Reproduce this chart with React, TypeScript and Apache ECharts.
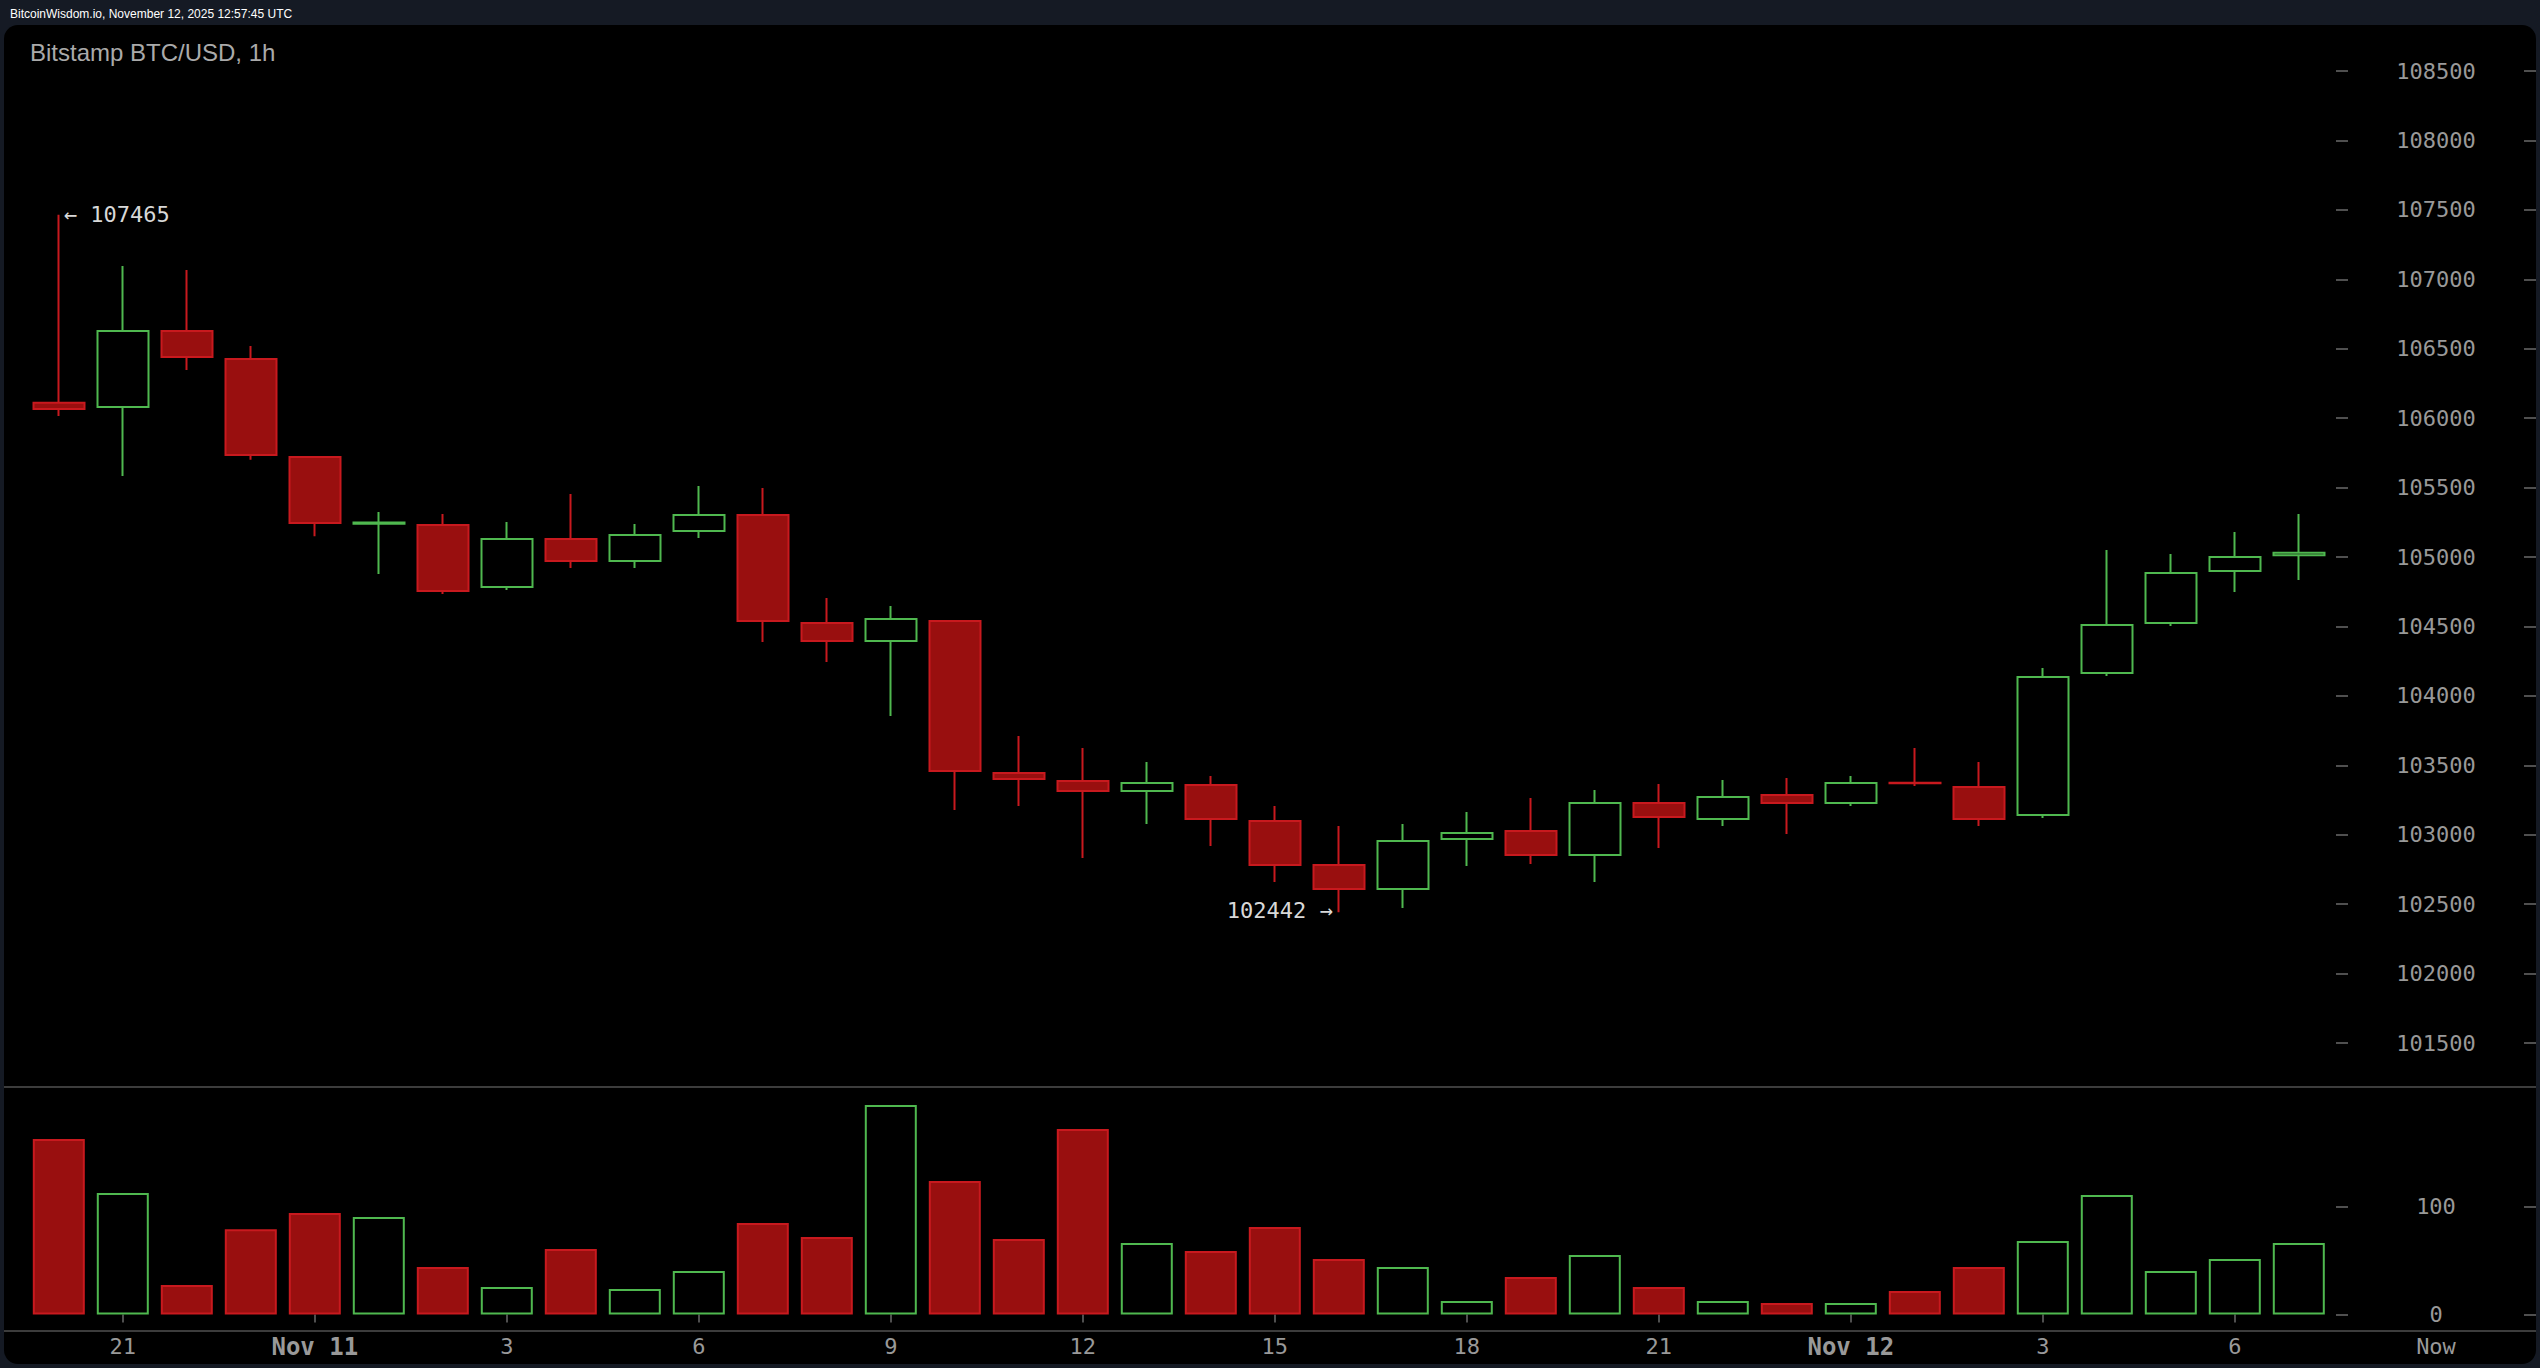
import { useEffect, useRef } from 'react'
import * as echarts from 'echarts'

const timeLabels = ['', '21', '', '', 'Nov 11', '', '', '3', '', '', '6', '', '', '9', '', '', '12', '', '', '15', '', '', '18', '', '', '21', '', '', 'Nov 12', '', '', '3', '', '', '6', '']

const opens = [106110, 106080, 106628, 106426, 105720, 105240, 105230, 104784, 105130, 104971, 105187, 105302, 104525, 104395, 104539, 103445, 103387, 103315, 103358, 103099, 102782, 102609, 102969, 103027, 102854, 103228, 103113, 103286, 103228, 103375, 103343, 103142, 104165, 104525, 104899, 105012]
const closes = [106065, 106628, 106440, 105735, 105245, 105248, 104755, 105130, 104971, 105158, 105302, 104539, 104395, 104554, 103459, 103401, 103315, 103372, 103113, 102782, 102609, 102955, 103012, 102854, 103228, 103127, 103272, 103228, 103372, 103370, 103113, 104136, 104510, 104885, 105000, 105030]
const lows = [106015, 105583, 106347, 105700, 105150, 104878, 104733, 104762, 104921, 104921, 105137, 104388, 104244, 103855, 103178, 103207, 102832, 103077, 102919, 102660, 102442, 102472, 102775, 102789, 102660, 102905, 103063, 103005, 103207, 103351, 103063, 103120, 104143, 104503, 104748, 104834]
const highs = [107465, 107096, 107067, 106520, 105720, 105324, 105310, 105252, 105454, 105238, 105511, 105497, 104705, 104647, 104539, 103711, 103625, 103524, 103423, 103207, 103063, 103077, 103163, 103264, 103322, 103365, 103394, 103408, 103423, 103625, 103524, 104201, 105050, 105022, 105180, 105310]
const volumes = [162.5, 112.5, 27.3, 79, 94, 90.3, 44, 25.5, 60.6, 23.6, 40.3, 84.7, 71.8, 194, 123.6, 69.9, 171.8, 66.2, 58.8, 81, 51.4, 44, 12.5, 34.7, 55.1, 25.5, 12.5, 10.6, 10.6, 21.8, 44, 68, 110.6, 40.3, 51.4, 66.2]
const volumeTicks = [0, 100]

const highIndex = 0
const lowIndex = 20

const GREEN = '#4fb84f'
const RED = '#c8191e'
const RED_FILL = '#990f0f'
const MONO = '"DejaVu Sans Mono", monospace'
const SANS = '"Liberation Sans", Arial, sans-serif'
const AXIS_TEXT = '#999999'
const TICK = '#4f4f4f'

const candleData = opens.map((o, i) => [o, closes[i], lows[i], highs[i]])
const volumeData = volumes.map((v, i) => ({
  value: v,
  itemStyle: closes[i] >= opens[i]
    ? { color: '#000', borderColor: GREEN, borderWidth: 2 }
    : { color: RED_FILL, borderColor: RED, borderWidth: 2 },
}))

export default function App() {
  const ref = useRef<HTMLDivElement>(null)

  useEffect(() => {
    if (!ref.current) return
    const chart = echarts.init(ref.current, undefined, { renderer: 'svg' })

    const yLabel = {
      fontFamily: MONO,
      fontSize: 22,
      color: AXIS_TEXT,
      align: 'center' as const,
      margin: 88,
      padding: [0, 0, 4, 0],
      formatter: (v: number) => String(v),
    }
    const tickStyle = { show: true, inside: true, length: 12, lineStyle: { color: TICK, width: 2 } }

    chart.setOption({
      animation: false,
      backgroundColor: '#151a24',
      grid: [
        { left: 26.8, width: 2304, top: 71, height: 972 },
        { left: 26.8, width: 2304, top: 1098.5, height: 216 },
      ],
      xAxis: [
        { type: 'category', gridIndex: 0, data: timeLabels, show: false },
        {
          type: 'category',
          gridIndex: 1,
          data: timeLabels,
          position: 'bottom',
          offset: 16.5,
          axisLine: { show: false },
          axisTick: {
            show: true,
            alignWithLabel: true,
            length: 8,
            interval: (i: number) => timeLabels[i] !== '',
            lineStyle: { color: TICK, width: 2 },
          },
          axisLabel: {
            interval: 0,
            margin: 4,
            fontFamily: MONO,
            fontSize: 22,
            color: AXIS_TEXT,
            formatter: (v: string) => (v.startsWith('Nov') ? `{b|${v}}` : v),
            rich: { b: { fontFamily: MONO, fontSize: 24, fontWeight: 'bold', color: AXIS_TEXT } },
          },
        },
      ],
      yAxis: [
        {
          type: 'value', gridIndex: 0, position: 'right', offset: 17.2,
          min: 101500, max: 108500, interval: 500,
          axisLine: { show: false }, axisTick: tickStyle, splitLine: { show: false }, axisLabel: yLabel,
        },
        {
          type: 'value', gridIndex: 0, position: 'right', offset: 205.2,
          min: 101500, max: 108500, interval: 500,
          axisLine: { show: false }, axisTick: tickStyle, splitLine: { show: false }, axisLabel: { show: false },
        },
        {
          type: 'value', gridIndex: 1, position: 'right', offset: 17.2,
          min: 0, max: 200, interval: 100,
          axisLine: { show: false },
          axisTick: { ...tickStyle, customValues: volumeTicks },
          splitLine: { show: false },
          axisLabel: { ...yLabel, customValues: volumeTicks },
        },
        {
          type: 'value', gridIndex: 1, position: 'right', offset: 205.2,
          min: 0, max: 200, interval: 100,
          axisLine: { show: false },
          axisTick: { ...tickStyle, customValues: volumeTicks },
          splitLine: { show: false },
          axisLabel: { show: false },
        },
      ],
      series: [
        {
          type: 'candlestick',
          xAxisIndex: 0,
          yAxisIndex: 0,
          data: candleData,
          barWidth: 52,
          itemStyle: { color: '#000', color0: RED_FILL, borderColor: GREEN, borderColor0: RED, borderWidth: 2 },
          markPoint: {
            symbol: 'circle',
            symbolSize: 0,
            silent: true,
            data: [
              {
                coord: [highIndex, highs[highIndex]],
                label: { show: true, position: 'right', distance: 5, formatter: `← ${highs[highIndex]}`, fontFamily: MONO, fontSize: 22, color: '#d8d8d8' },
              },
              {
                coord: [lowIndex, lows[lowIndex]],
                label: { show: true, position: 'left', distance: 6, offset: [0, -2], formatter: `${lows[lowIndex]} →`, fontFamily: MONO, fontSize: 22, color: '#d8d8d8' },
              },
            ],
          },
        },
        {
          type: 'bar',
          xAxisIndex: 1,
          yAxisIndex: 2,
          data: volumeData,
          barWidth: 52,
        },
      ],
      graphic: [
        { type: 'rect', z: -10, shape: { x: 4, y: 25, width: 2532, height: 1339, r: 14 }, style: { fill: '#000' } },
        { type: 'line', z: 1, shape: { x1: 4, y1: 1087, x2: 2536, y2: 1087 }, style: { stroke: '#3c3c3c', lineWidth: 2 } },
        { type: 'line', z: 1, shape: { x1: 4, y1: 1331, x2: 2536, y2: 1331 }, style: { stroke: '#3c3c3c', lineWidth: 2 } },
        { type: 'text', z: 5, x: 10, y: 14, style: { text: 'BitcoinWisdom.io, November 12, 2025 12:57:45 UTC', fill: '#fff', font: `12px ${SANS}`, textVerticalAlign: 'middle' } },
        { type: 'text', z: 5, x: 30, y: 52, style: { text: 'Bitstamp BTC/USD, 1h', fill: '#aaaaaa', font: `24px ${SANS}`, textVerticalAlign: 'middle' } },
        { type: 'text', z: 5, x: 2436, y: 1346, style: { text: 'Now', fill: AXIS_TEXT, font: `22px ${MONO}`, textAlign: 'center', textVerticalAlign: 'middle' } },
      ],
    })

    return () => chart.dispose()
  }, [])

  return <div ref={ref} style={{ position: 'absolute', left: 0, top: 0, width: 2540, height: 1368 }} />
}
